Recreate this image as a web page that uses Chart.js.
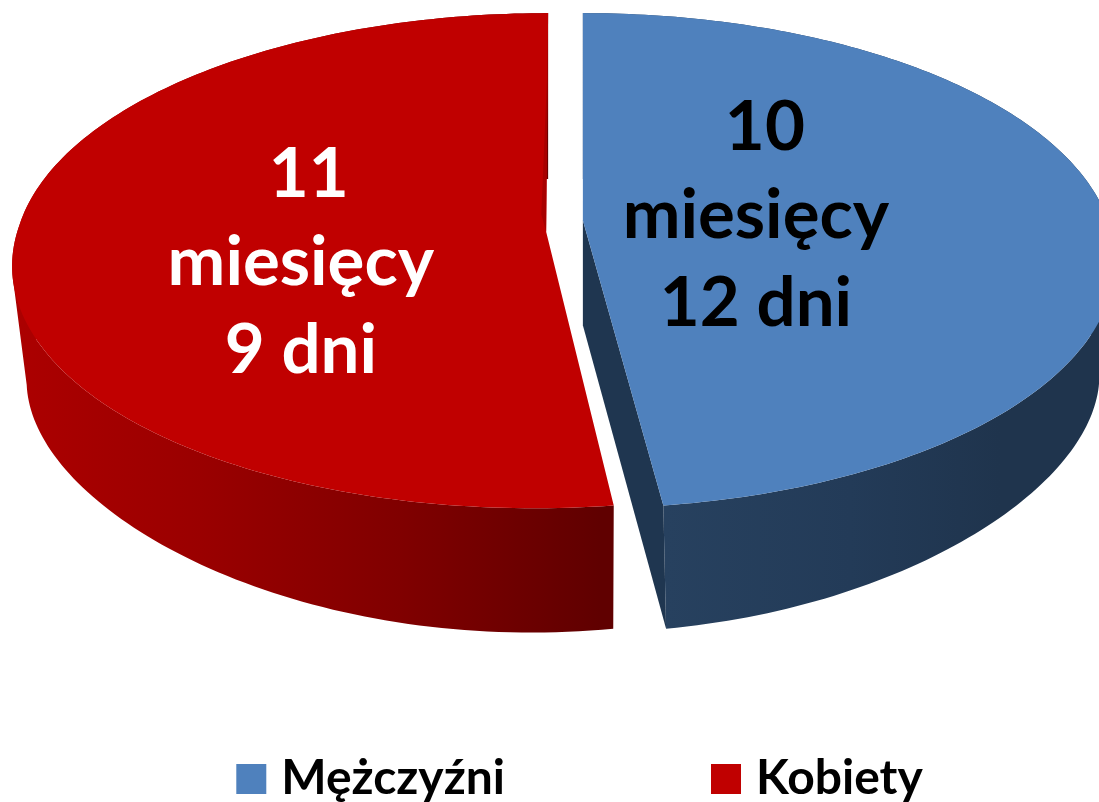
<!DOCTYPE html>
<html lang="pl">
<head>
  <meta charset="utf-8">
  <title>Mężczyźni / Kobiety</title>
  <script src="https://cdn.jsdelivr.net/npm/chart.js@4"></script>
  <style>
  html, body { margin: 0; padding: 0; background: #fff; overflow: hidden; }
  canvas { display: block; }
  </style>
</head>
<body>
<canvas id="chart" width="1099" height="802"></canvas>
<script>
// duration in days: 10 months 12 days, 11 months 9 days
var categories = ['Mężczyźni', 'Kobiety'];
var values = [312, 339];
var sliceLabels = [
  ['10', 'miesięcy', '12 dni'],
  ['11', 'miesięcy', '9 dni']
];

var topColors = ['#4F81BD', '#C00000'];
var cutColors = ['#1F3650', '#A80000'];
var labelColors = ['#000000', '#ffffff'];
var wallStops = [
  [[665, '#27415F'], [850, '#233B58'], [1000, '#1F344D']],
  [[12, '#AC0000'], [200, '#9A0000'], [400, '#800000'], [600, '#600000']]
];

// perspective of the tilted disc
var view = { x: 564.5, y: 226, a: 527, b: 242.7, p: 0.14 };
var floor = { scale: 0.96, drop: 105, b: 202, px: 0.2, py: 0.33 };
var explodeX = 2.3, explodeY = 0.75;
var skewNear = [1, -12];
var skewFar = [0, -2];
var labelRadius = [0.33, 0.46];
var labelDy = [-1, 26];
var lineGap = 88;
var lineNudge = [[9, 0, 0], [6, -2, -2]];

function project(el, i, angle, r, low) {
  var mid = (el.startAngle + el.endAngle) / 2;
  var off = el.options.offset;
  var c = Math.cos(angle) * r, u = Math.sin(angle) * r;
  var sx = 1 / (1 - (low ? floor.px : view.p) * u);
  var sy = 1 / (1 - (low ? floor.py : view.p) * u);
  var k = low ? floor.scale : 1;
  var b = low ? floor.b : view.b;
  var skew = (u > 0 ? skewNear[i] * (low ? 1.25 : 1) : skewFar[i]) * u;
  return {
    x: view.x + Math.cos(mid) * off * explodeX + skew + view.a * c * sx * k,
    y: view.y + Math.sin(mid) * off * explodeY * 15 * (1 - r) + b * u * sy + (low ? floor.drop : 0)
  };
}

function rim(el, i, low) {
  var pts = [], steps = 180;
  for (var n = 0; n <= steps; n++) {
    pts.push(project(el, i, el.startAngle + (el.endAngle - el.startAngle) * n / steps, 1, low));
  }
  return pts;
}

function fillPoly(ctx, pts, fill) {
  ctx.beginPath();
  pts.forEach(function (p, n) { n ? ctx.lineTo(p.x, p.y) : ctx.moveTo(p.x, p.y); });
  ctx.closePath();
  ctx.fillStyle = fill;
  ctx.fill();
}

// one path of same-wound quads, so nonzero fill gives their union
function fillWall(ctx, top, low, fill) {
  ctx.beginPath();
  for (var n = 0; n < top.length - 1; n++) {
    var q = [top[n], top[n + 1], low[n + 1], low[n]];
    var area = 0;
    q.forEach(function (p, m) {
      var o = q[(m + 1) % 4];
      area += p.x * o.y - o.x * p.y;
    });
    if (area < 0) q.reverse();
    ctx.moveTo(q[0].x, q[0].y);
    ctx.lineTo(q[1].x, q[1].y);
    ctx.lineTo(q[2].x, q[2].y);
    ctx.lineTo(q[3].x, q[3].y);
    ctx.closePath();
  }
  ctx.fillStyle = fill;
  ctx.fill();
}

var pie3d = {
  id: 'pie3d',
  afterLayout: function (chart) {
    // the legend padding is only wanted between items, so move the box back down
    var legend = chart.legend;
    var pad = legend.options.labels.padding;
    legend.top = 779 - 24 - pad;
    legend.bottom = legend.top + legend.height;
    legend.left += 34.5;
    legend.right += 34.5;
  },
  beforeDatasetDraw: function (chart, args) {
    var ctx = chart.ctx;
    var arcs = args.meta.data;
    ctx.save();
    arcs.forEach(function (el, i) {
      var grad = ctx.createLinearGradient(0, 0, chart.width, 0);
      wallStops[i].forEach(function (st) { grad.addColorStop(st[0] / chart.width, st[1]); });
      fillWall(ctx, rim(el, i, false), rim(el, i, true), grad);
    });
    // blue slice shows its cut face on the left
    var blue = arcs[0];
    var a = blue.endAngle;
    fillPoly(ctx, [
      project(blue, 0, a, 0, false), project(blue, 0, a, 1, false),
      project(blue, 0, a, 1, true), project(blue, 0, a, 0, true)
    ], cutColors[0]);
    arcs.forEach(function (el, i) {
      var apex = project(el, i, el.startAngle, 0, false);
      fillPoly(ctx, [apex].concat(rim(el, i, false)), topColors[i]);
    });
    // thin sliver of the red cut face along its far edge
    var red = arcs[1];
    var e1 = project(red, 1, red.endAngle, 0.75, false);
    var e2 = project(red, 1, red.endAngle, 0.07, false);
    var e3 = project(red, 1, red.endAngle, 0, false);
    fillPoly(ctx, [e1, { x: e2.x - 5, y: e2.y }, e3, e2], cutColors[1]);

    ctx.font = 'bold 69px Lato';
    ctx.textAlign = 'center';
    ctx.textBaseline = 'middle';
    arcs.forEach(function (el, i) {
      var mid = (el.startAngle + el.endAngle) / 2;
      var p = project(el, i, mid, labelRadius[i], false);
      ctx.fillStyle = labelColors[i];
      sliceLabels[i].forEach(function (line, n) {
        ctx.fillText(line, p.x + lineNudge[i][n], p.y + labelDy[i] + (n - 1) * lineGap);
      });
    });
    ctx.restore();
    return false;
  }
};

new Chart(document.getElementById('chart'), {
  type: 'pie',
  data: {
    labels: categories,
    datasets: [{
      data: values,
      backgroundColor: topColors,
      borderWidth: 0,
      offset: 8
    }]
  },
  plugins: [pie3d],
  options: {
    responsive: false,
    animation: false,
    events: [],
    // negative side padding leaves room for the wide legend row
    layout: { padding: { left: -30, right: -30 } },
    plugins: {
      tooltip: { enabled: false },
      legend: {
        position: 'bottom',
        labels: {
          boxWidth: 12,
          boxHeight: 12,
          padding: 215,
          color: '#000',
          font: { family: 'Lato', size: 48, weight: 'bold' },
          generateLabels: function () {
            return categories.map(function (name, i) {
              return { text: name, fillStyle: topColors[i], strokeStyle: topColors[i], lineWidth: 18, index: i };
            });
          }
        }
      }
    }
  }
});
</script>
</body>
</html>
